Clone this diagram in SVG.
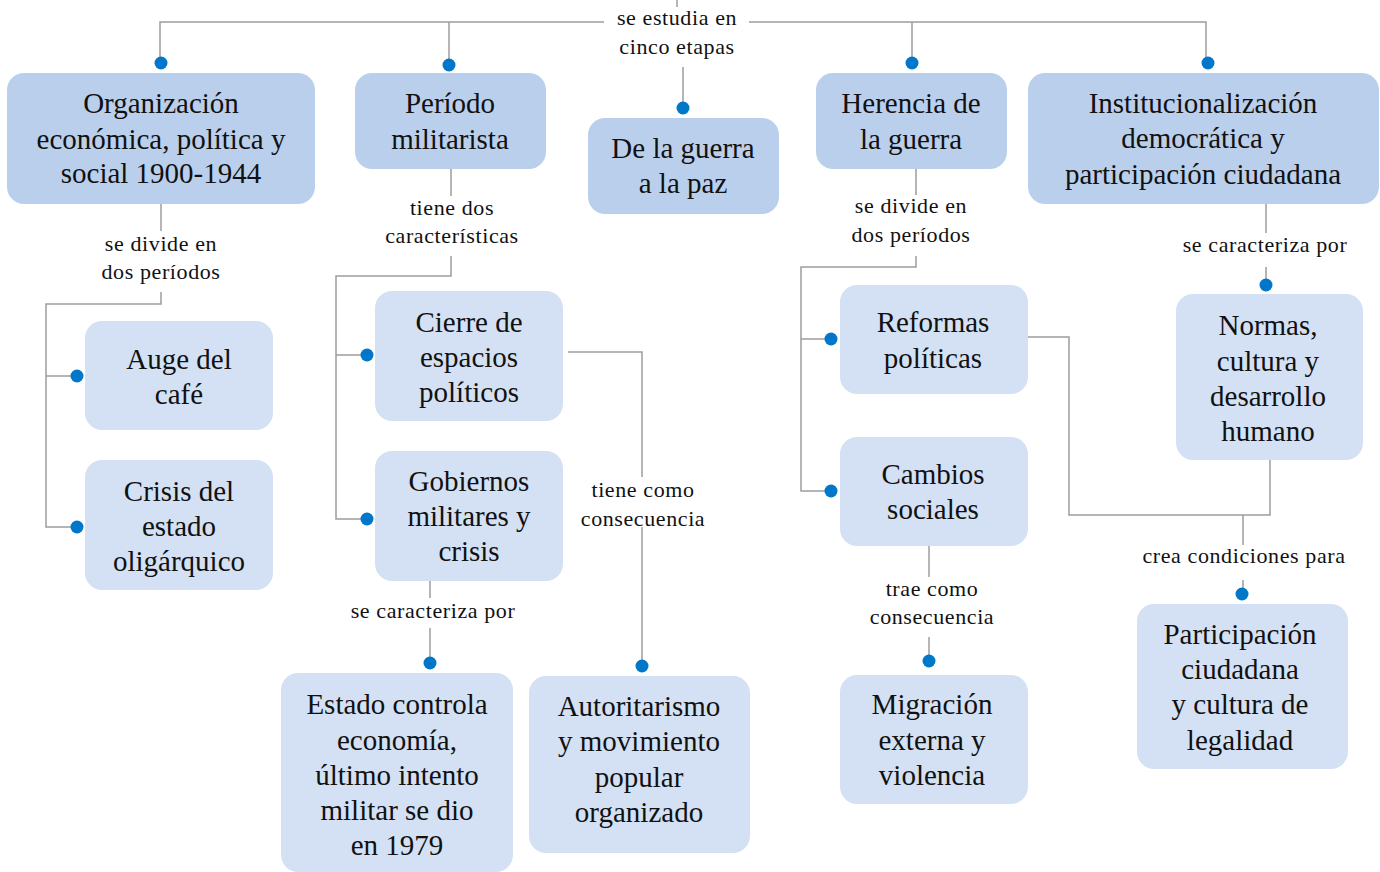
<svg xmlns="http://www.w3.org/2000/svg" width="1380" height="872" viewBox="0 0 1380 872">
<style>
.n1{fill:#bacfec}
.n2{fill:#d4e1f4}
.t{font-family:'Liberation Serif','DejaVu Serif',serif;font-size:29px;fill:#111;text-anchor:middle}
.l{font-family:'Liberation Serif','DejaVu Serif',serif;font-size:22px;letter-spacing:0.6px;fill:#111;text-anchor:middle}
.c{fill:none;stroke:#9d9d9d;stroke-width:1.5}
.d{fill:#0077c8}
</style>
<rect width="1380" height="872" fill="#fff"/>
<g id="connectors">
<path class="c" d="M677,0V7"/>
<path class="c" d="M604,22H160V63"/>
<path class="c" d="M449,22V65"/>
<path class="c" d="M749,22H1206V63"/>
<path class="c" d="M912,22V63"/>
<path class="c" d="M683,67V108"/>
<path class="c" d="M161,204V231M161,292V304H46V527H77M46,376H77"/>
<path class="c" d="M451,169V196M451,256V276H336V519H367M336,355H367"/>
<path class="c" d="M916,169V195M916,256V267H801V491H831M801,339H831"/>
<path class="c" d="M1266,204V233M1266,267V285"/>
<path class="c" d="M568,352H642V477M642,527V666"/>
<path class="c" d="M430,581V598M430,628V663"/>
<path class="c" d="M929,546V577M929,637V661"/>
<path class="c" d="M1028,337H1069V515H1270V460M1243,515V545M1243,580V594"/>
<g id="labels">
<text class="l" x="677" y="25">se estudia en</text>
<text class="l" x="677" y="54">cinco etapas</text>
<text class="l" x="161" y="251">se divide en</text>
<text class="l" x="161" y="279">dos períodos</text>
<text class="l" x="452" y="215">tiene dos</text>
<text class="l" x="452" y="243">características</text>
<text class="l" x="911" y="213">se divide en</text>
<text class="l" x="911" y="242">dos períodos</text>
<text class="l" x="1265" y="252">se caracteriza por</text>
<text class="l" x="643" y="497">tiene como</text>
<text class="l" x="643" y="526">consecuencia</text>
<text class="l" x="433" y="618">se caracteriza por</text>
<text class="l" x="932" y="596">trae como</text>
<text class="l" x="932" y="624">consecuencia</text>
<text class="l" x="1244" y="563">crea condiciones para</text>
</g>
<g id="dots">
<circle class="d" cx="161" cy="63" r="6.5"/>
<circle class="d" cx="449" cy="65" r="6.5"/>
<circle class="d" cx="683" cy="108" r="6.5"/>
<circle class="d" cx="912" cy="63" r="6.5"/>
<circle class="d" cx="1208" cy="63" r="6.5"/>
<circle class="d" cx="77" cy="376" r="6.5"/>
<circle class="d" cx="77" cy="527" r="6.5"/>
<circle class="d" cx="367" cy="355" r="6.5"/>
<circle class="d" cx="367" cy="519" r="6.5"/>
<circle class="d" cx="831" cy="339" r="6.5"/>
<circle class="d" cx="831" cy="491" r="6.5"/>
<circle class="d" cx="1266" cy="285" r="6.5"/>
<circle class="d" cx="642" cy="666" r="6.5"/>
<circle class="d" cx="430" cy="663" r="6.5"/>
<circle class="d" cx="929" cy="661" r="6.5"/>
<circle class="d" cx="1242" cy="594" r="6.5"/>
</g>
</g>
<g id="n-organizacion">
<rect class="n1" x="7" y="73" width="308" height="131" rx="17"/>
<text class="t" x="161" y="113">Organización</text>
<text class="t" x="161" y="149">económica, política y</text>
<text class="t" x="161" y="183">social 1900-1944</text>
</g>
<g id="n-periodo">
<rect class="n1" x="355" y="73" width="191" height="96" rx="17"/>
<text class="t" x="450" y="113">Período</text>
<text class="t" x="450" y="149">militarista</text>
</g>
<g id="n-guerrapaz">
<rect class="n1" x="588" y="118" width="191" height="96" rx="17"/>
<text class="t" x="683" y="158">De la guerra</text>
<text class="t" x="683" y="193">a la paz</text>
</g>
<g id="n-herencia">
<rect class="n1" x="816" y="73" width="191" height="96" rx="17"/>
<text class="t" x="911" y="113">Herencia de</text>
<text class="t" x="911" y="149">la guerra</text>
</g>
<g id="n-institucionalizacion">
<rect class="n1" x="1028" y="73" width="351" height="131" rx="17"/>
<text class="t" x="1203" y="113">Institucionalización</text>
<text class="t" x="1203" y="148">democrática y</text>
<text class="t" x="1203" y="184">participación ciudadana</text>
</g>
<g id="n-auge">
<rect class="n2" x="85" y="321" width="188" height="109" rx="17"/>
<text class="t" x="179" y="369">Auge del</text>
<text class="t" x="179" y="404">café</text>
</g>
<g id="n-crisis">
<rect class="n2" x="85" y="460" width="188" height="130" rx="17"/>
<text class="t" x="179" y="501">Crisis del</text>
<text class="t" x="179" y="536">estado</text>
<text class="t" x="179" y="571">oligárquico</text>
</g>
<g id="n-cierre">
<rect class="n2" x="375" y="291" width="188" height="130" rx="17"/>
<text class="t" x="469" y="332">Cierre de</text>
<text class="t" x="469" y="367">espacios</text>
<text class="t" x="469" y="402">políticos</text>
</g>
<g id="n-gobiernos">
<rect class="n2" x="375" y="451" width="188" height="130" rx="17"/>
<text class="t" x="469" y="491">Gobiernos</text>
<text class="t" x="469" y="526">militares y</text>
<text class="t" x="469" y="561">crisis</text>
</g>
<g id="n-estado">
<rect class="n2" x="281" y="673" width="232" height="199" rx="17"/>
<text class="t" x="397" y="714">Estado controla</text>
<text class="t" x="397" y="750">economía,</text>
<text class="t" x="397" y="785">último intento</text>
<text class="t" x="397" y="820">militar se dio</text>
<text class="t" x="397" y="855">en 1979</text>
</g>
<g id="n-autoritarismo">
<rect class="n2" x="529" y="676" width="221" height="177" rx="17"/>
<text class="t" x="639" y="716">Autoritarismo</text>
<text class="t" x="639" y="751">y movimiento</text>
<text class="t" x="639" y="787">popular</text>
<text class="t" x="639" y="822">organizado</text>
</g>
<g id="n-reformas">
<rect class="n2" x="840" y="285" width="188" height="109" rx="17"/>
<text class="t" x="933" y="332">Reformas</text>
<text class="t" x="933" y="368">políticas</text>
</g>
<g id="n-cambios">
<rect class="n2" x="840" y="437" width="188" height="109" rx="17"/>
<text class="t" x="933" y="484">Cambios</text>
<text class="t" x="933" y="519">sociales</text>
</g>
<g id="n-normas">
<rect class="n2" x="1176" y="294" width="187" height="166" rx="17"/>
<text class="t" x="1268" y="335">Normas,</text>
<text class="t" x="1268" y="371">cultura y</text>
<text class="t" x="1268" y="406">desarrollo</text>
<text class="t" x="1268" y="441">humano</text>
</g>
<g id="n-migracion">
<rect class="n2" x="840" y="675" width="188" height="129" rx="17"/>
<text class="t" x="932" y="714">Migración</text>
<text class="t" x="932" y="750">externa y</text>
<text class="t" x="932" y="785">violencia</text>
</g>
<g id="n-participacion">
<rect class="n2" x="1137" y="604" width="211" height="165" rx="17"/>
<text class="t" x="1240" y="644">Participación</text>
<text class="t" x="1240" y="679">ciudadana</text>
<text class="t" x="1240" y="714">y cultura de</text>
<text class="t" x="1240" y="750">legalidad</text>
</g>
</svg>
